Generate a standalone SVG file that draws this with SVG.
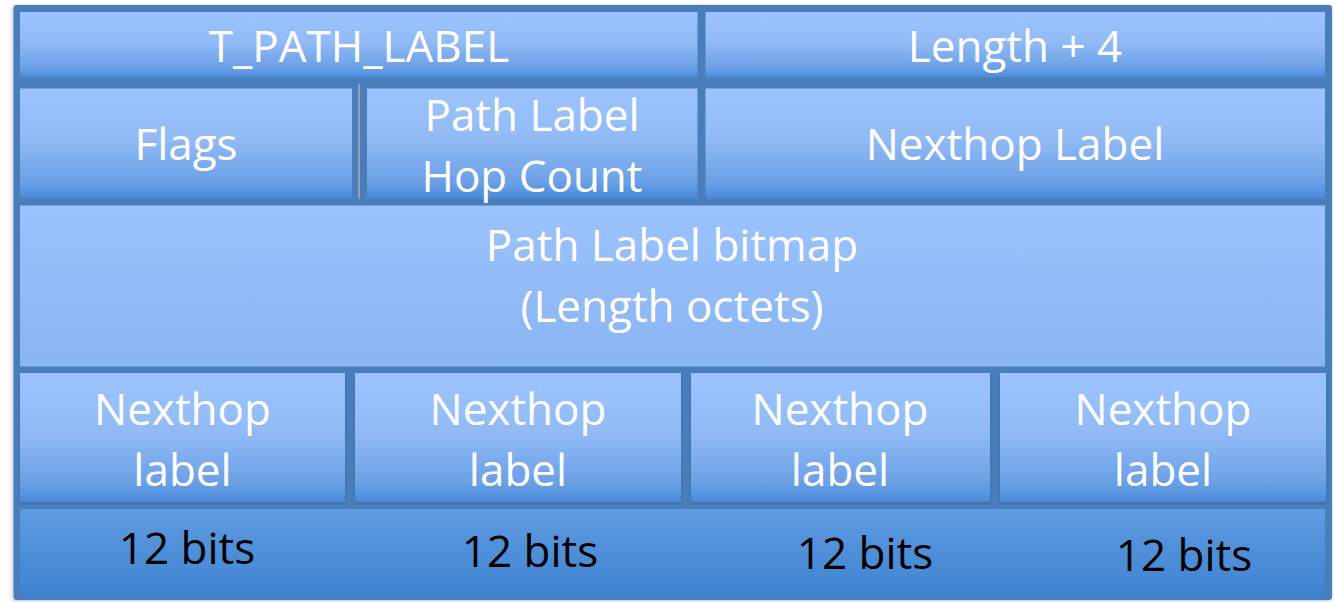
<svg xmlns="http://www.w3.org/2000/svg" width="1334" height="602" viewBox="0 0 1334 602">
  <defs>
    <linearGradient id="cellGrad" x1="0" y1="0" x2="0" y2="1">
      <stop offset="0" stop-color="#9CC3FD"/>
      <stop offset="0.45" stop-color="#92BBF6"/>
      <stop offset="0.85" stop-color="#6BA0E6"/>
      <stop offset="1" stop-color="#4A8AD8"/>
    </linearGradient>
    <linearGradient id="bigGrad" x1="0" y1="0" x2="0" y2="1">
      <stop offset="0" stop-color="#9BC2FC"/>
      <stop offset="1" stop-color="#8AB5F3"/>
    </linearGradient>
    <linearGradient id="baseGrad" x1="0" y1="0" x2="0" y2="1">
      <stop offset="0" stop-color="#5F9BE1"/>
      <stop offset="1" stop-color="#3E83D0"/>
    </linearGradient>
    <filter id="shadow" x="-5%" y="-5%" width="110%" height="110%">
      <feDropShadow dx="-1" dy="1" stdDeviation="2" flood-color="#000" flood-opacity="0.25"/>
    </filter>
    <filter id="cellShadow" x="-5%" y="-10%" width="110%" height="125%">
      <feDropShadow dx="0" dy="1.5" stdDeviation="1.5" flood-color="#1d3f6e" flood-opacity="0.35"/>
    </filter>
  </defs>
  <style>
    .frame { fill: #4A7EBB; }
    .cell { fill: url(#cellGrad); }
    .big { fill: url(#bigGrad); }
    .base { fill: url(#baseGrad); }
    .lbl { font-family: "Open Sans", "Liberation Sans", sans-serif; font-size: 44px; fill: #FFFFFF; text-anchor: middle; }
    .bits { font-family: "Open Sans", "Liberation Sans", sans-serif; font-size: 44px; fill: #000000; text-anchor: middle; }
  </style>

  <rect class="frame" x="13.5" y="5" width="1318.5" height="595" rx="3" filter="url(#shadow)"/>

  <g id="t_path_label">
    <rect class="cell" x="20" y="12" width="677.5" height="65.5"/>
    <text class="lbl" x="359" y="62">T_PATH_LABEL</text>
  </g>
  <g id="length_plus_4">
    <rect class="cell" x="705.5" y="12" width="619.5" height="65.5"/>
    <text class="lbl" x="1015" y="62">Length + 4</text>
  </g>

  <g id="flags">
    <rect class="cell" x="20" y="88.5" width="332" height="110"/>
    <text class="lbl" x="186" y="160">Flags</text>
  </g>
  <g id="divider">
    <rect x="358.3" y="84" width="1.6" height="114.5" fill="#A3A9B2"/>
  </g>
  <g id="path_label_hop_count">
    <rect class="cell" x="367" y="88.5" width="330.5" height="110"/>
    <text class="lbl" x="532" y="131">Path Label</text>
    <text class="lbl" x="532" y="192">Hop Count</text>
  </g>
  <g id="nexthop_label_top">
    <rect class="cell" x="705.5" y="88.5" width="619.5" height="110"/>
    <text class="lbl" x="1015" y="160">Nexthop Label</text>
  </g>

  <g id="path_label_bitmap">
    <rect class="big" x="20" y="205.5" width="1305" height="161"/>
    <text class="lbl" x="672" y="261">Path Label bitmap</text>
    <text class="lbl" x="672" y="322">(Length octets)</text>
  </g>

  <g id="bits_row">
    <rect class="base" x="20" y="509" width="1305" height="88"/>
  </g>

  <g id="nh1">
    <rect class="cell" x="20" y="373" width="325" height="129" filter="url(#cellShadow)"/>
    <text class="lbl" x="182.5" y="425">Nexthop</text>
    <text class="lbl" x="182.5" y="486">label</text>
    <text class="bits" x="187" y="564">12 bits</text>
  </g>
  <g id="nh2">
    <rect class="cell" x="355" y="373" width="326" height="129" filter="url(#cellShadow)"/>
    <text class="lbl" x="518" y="425">Nexthop</text>
    <text class="lbl" x="518" y="486">label</text>
    <text class="bits" x="530" y="567">12 bits</text>
  </g>
  <g id="nh3">
    <rect class="cell" x="691" y="373" width="299" height="129" filter="url(#cellShadow)"/>
    <text class="lbl" x="840" y="425">Nexthop</text>
    <text class="lbl" x="840" y="486">label</text>
    <text class="bits" x="865" y="569">12 bits</text>
  </g>
  <g id="nh4">
    <rect class="cell" x="1000" y="373" width="326" height="129" filter="url(#cellShadow)"/>
    <text class="lbl" x="1163" y="425">Nexthop</text>
    <text class="lbl" x="1163" y="486">label</text>
    <text class="bits" x="1184" y="571">12 bits</text>
  </g>

  <g id="connectors"></g>
</svg>
